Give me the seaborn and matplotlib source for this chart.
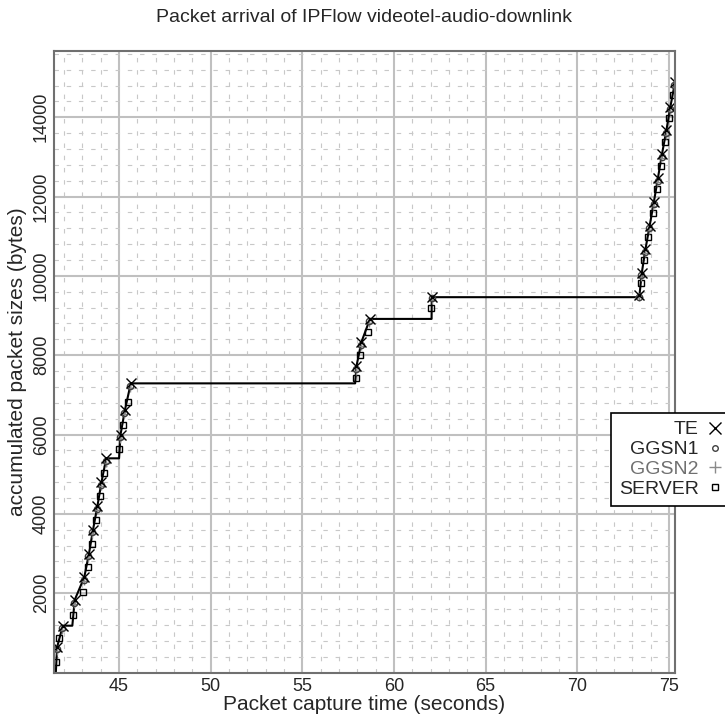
import matplotlib
matplotlib.use("Agg")
import matplotlib.pyplot as plt
from matplotlib.lines import Line2D
from matplotlib.ticker import MultipleLocator
import seaborn as sns

# packet capture times (s) and accumulated sizes (bytes)
te_time = [41.62, 41.93, 42.58, 43.10, 43.36, 43.58, 43.82, 44.04, 44.30, 45.08,
           45.32, 45.64, 57.95, 58.22, 58.69, 62.06, 73.39, 73.52, 73.72, 73.95,
           74.18, 74.40, 74.62, 74.86, 75.08, 75.33]
te_bytes = [640, 1180, 1830, 2400, 3000, 3600, 4200, 4800, 5400, 6000,
            6620, 7290, 7720, 8330, 8915, 9463, 9520, 10080, 10680, 11270,
            11870, 12470, 13070, 13670, 14270, 14880]

ggsn1_time = [41.60, 41.90, 42.55, 43.07, 43.33, 43.55, 43.79, 44.01, 44.27, 45.05,
              45.29, 45.61, 57.93, 58.19, 58.66, 62.08, 73.37, 73.50, 73.70, 73.93,
              74.16, 74.38, 74.60, 74.84, 75.06, 75.30]
ggsn1_bytes = [580, 1110, 1760, 2340, 2930, 3530, 4130, 4730, 5330, 5930,
               6550, 7220, 7650, 8260, 8850, 9437, 9480, 10010, 10610, 11200,
               11800, 12400, 13000, 13600, 14200, 14810]

ggsn2_time = [41.59, 41.89, 42.54, 43.06, 43.32, 43.54, 43.78, 44.00, 44.26, 45.04,
              45.28, 45.60, 57.92, 58.18, 58.65, 62.05, 73.36, 73.49, 73.69, 73.92,
              74.15, 74.37, 74.59, 74.83, 75.05, 75.29]
ggsn2_bytes = [540, 1070, 1720, 2300, 2890, 3490, 4090, 4690, 5290, 5890,
               6510, 7180, 7610, 8220, 8810, 9400, 9460, 9970, 10570, 11160,
               11760, 12360, 12960, 13560, 14160, 14770]

server_time = [41.58, 41.72, 42.47, 43.02, 43.29, 43.51, 43.75, 43.96, 44.18, 45.02,
               45.24, 45.51, 57.90, 58.14, 58.56, 62.04, 73.46, 73.66, 73.88, 74.12,
               74.33, 74.55, 74.79, 75.00, 75.21]
server_bytes = [272, 860, 1450, 2040, 2650, 3250, 3846, 4451, 5024, 5630,
                6242, 6830, 7419, 8008, 8597, 9200, 9816, 10404, 10992, 11581,
                12190, 12760, 13370, 13976, 14563]

# vertices of the accumulated-bytes curve (flat during the silent gaps)
curve_time = [41.55, 41.62, 41.93, 42.45, 42.58, 43.10, 43.36, 43.58, 43.82, 44.04,
              44.30, 45.00, 45.08, 45.32, 45.64, 57.88, 57.95, 58.22, 58.69, 62.05,
              62.06, 73.38, 73.52, 73.72, 73.95, 74.18, 74.40, 74.62, 74.86, 75.08,
              75.33]
curve_bytes = [0, 640, 1180, 1180, 1830, 2400, 3000, 3600, 4200, 4800,
               5400, 5400, 6000, 6620, 7290, 7290, 7720, 8330, 8915, 8915,
               9463, 9463, 10080, 10680, 11270, 11870, 12470, 13070, 13670, 14270,
               14880]

x_ticks = [45, 50, 55, 60, 65, 70, 75]
y_ticks = [2000, 4000, 6000, 8000, 10000, 12000, 14000]


def main():
    sns.set_style("white")
    plt.rcParams["font.family"] = ["Liberation Sans", "DejaVu Sans"]

    W, H = 725, 718
    fig = plt.figure(figsize=(W / 100, H / 100), dpi=100)
    ax = fig.add_axes([54 / W, 1 - 672.5 / H, (675 - 54) / W, (672.5 - 51) / H])

    # grid
    ax.xaxis.set_minor_locator(MultipleLocator(1))
    ax.yaxis.set_minor_locator(MultipleLocator(400))
    ax.grid(which="minor", color="#c8c8c8", lw=0.8, linestyle=(0, (4, 7)))
    ax.grid(which="major", color="#c0c0c0", lw=1.5, linestyle="-")
    ax.set_axisbelow(True)

    sns.lineplot(x=curve_time, y=curve_bytes, ax=ax, color="black", lw=1.5,
                 estimator=None, sort=False)

    sns.lineplot(x=server_time, y=server_bytes, ax=ax, linestyle="none",
                 marker="s", ms=5, mfc="none", mec="black", mew=1,
                 estimator=None, sort=False)
    sns.lineplot(x=ggsn2_time, y=ggsn2_bytes, ax=ax, linestyle="none",
                 marker="+", ms=6, mec="#8a8a8a", mew=1,
                 estimator=None, sort=False)
    sns.lineplot(x=ggsn1_time, y=ggsn1_bytes, ax=ax, linestyle="none",
                 marker="o", ms=4.5, mfc="none", mec="#404040", mew=1,
                 estimator=None, sort=False)
    sns.lineplot(x=te_time, y=te_bytes, ax=ax, linestyle="none",
                 marker="x", ms=7, mec="black", mew=1,
                 estimator=None, sort=False)

    ax.set_xlim(41.45, 75.33)
    ax.set_ylim(0, 15670)
    ax.set_xticks(x_ticks)
    ax.set_yticks(y_ticks)
    ax.set_xticklabels([str(v) for v in x_ticks])
    ax.set_yticklabels([str(v) for v in y_ticks], rotation=90, va="center")

    ax.tick_params(which="major", direction="in", length=6, width=2.5,
                   color="black", labelsize=13, pad=4)
    ax.tick_params(which="minor", length=0)
    ax.tick_params(axis="y", pad=3)
    for side in ["left", "bottom", "top", "right"]:
        ax.spines[side].set_color("#707070")
        ax.spines[side].set_linewidth(1.5)
        ax.spines[side].set_visible(True)

    ax.set_xlabel("Packet capture time (seconds)", fontsize=15, labelpad=0)
    ax.set_ylabel("accumulated packet sizes (bytes)", fontsize=15, labelpad=4)
    fig.text(364 / W, 1 - 18 / H, "Packet arrival of IPFlow videotel-audio-downlink",
             ha="center", va="center", fontsize=14)

    handles = [
        Line2D([], [], ls="none", marker="x", ms=8, mec="black", mew=1),
        Line2D([], [], ls="none", marker="o", ms=4, mfc="none", mec="#404040", mew=1),
        Line2D([], [], ls="none", marker="+", ms=8, mec="#8a8a8a", mew=1),
        Line2D([], [], ls="none", marker="s", ms=4, mfc="none", mec="black", mew=1),
    ]
    labels = ["TE", "GGSN1", "GGSN2", "SERVER"]
    leg = fig.legend(handles, labels, loc="upper left",
                     bbox_to_anchor=(611 / W, 1 - 413 / H), markerfirst=False,
                     fontsize=14, frameon=True, fancybox=False, framealpha=1,
                     edgecolor="black", handlelength=1.1, handletextpad=0.3,
                     labelspacing=0.12, borderpad=0.4, borderaxespad=0)
    leg.get_frame().set_linewidth(1.2)
    leg.get_texts()[2].set_color("#707070")

    fig.savefig("out.png", dpi=100)


if __name__ == "__main__":
    main()
